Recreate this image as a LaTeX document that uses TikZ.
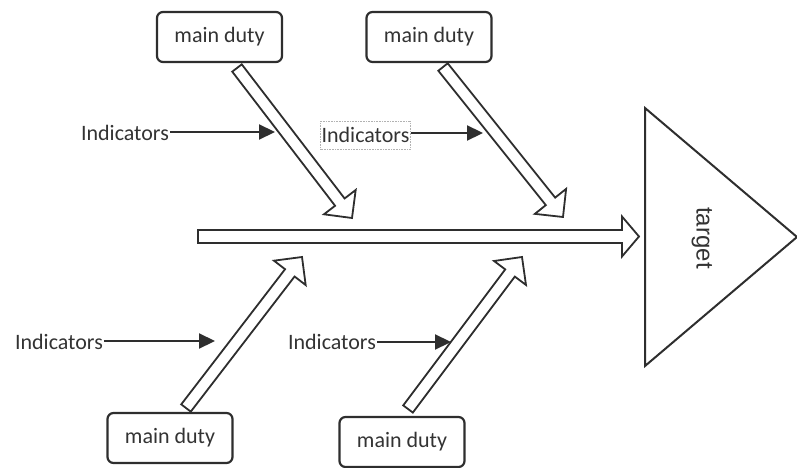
\documentclass[tikz,border=0pt]{standalone}
\usepackage{fontspec}
\setmainfont{Carlito}
\newfontfamily\labelfont{Liberation Sans}
\usetikzlibrary{calc,arrows.meta}

\definecolor{ink}{HTML}{2E2E2E}
\definecolor{txt}{HTML}{333333}

% hollow block arrow: #1 start, #2 tip, #3 half shaft width, #4 half head width, #5 head length
\newcommand\hollowarrow[5]{%
  \coordinate (ha-base) at ($(#2)!#5!(#1)$);
  \draw[hollow]
    ($(#1)!#3!90:(#2)$) -- ($(ha-base)!#3!90:(#2)$) -- ($(ha-base)!#4!90:(#2)$)
    -- (#2)
    -- ($(ha-base)!#4!-90:(#2)$) -- ($(ha-base)!#3!-90:(#2)$) -- ($(#1)!#3!-90:(#2)$)
    -- cycle;
}

\tikzset{
  hollow/.style={draw=ink, line width=1.8pt, fill=white, line join=miter},
  duty/.style={draw=ink, line width=2.2pt, rounded corners=6pt, fill=white,
    minimum width=125pt, minimum height=50pt, inner sep=0pt,
    font=\fontsize{22}{24}\selectfont, text=txt},
  indic/.style={inner xsep=1pt, inner ysep=0pt, minimum height=28pt,
    font=\fontsize{22}{24}\selectfont, text=txt},
  indframe/.style={draw=gray!60, densely dotted, line width=0.6pt},
  pointer/.style={draw=ink, line width=2.2pt, -{Triangle[length=16pt,width=15pt]}},
  goal/.style={draw=ink, line width=2pt, fill=white, line join=miter},
}

\begin{document}
\begin{tikzpicture}[x=1pt, y=-1pt]
  \useasboundingbox (0,0) rectangle (797,468);

  % target triangle
  \coordinate (tg-top) at (645,108);
  \coordinate (tg-bot) at (645,366);
  \coordinate (tg-tip) at (797,237);
  \draw[goal] (tg-top) -- (tg-tip) -- (tg-bot) -- cycle;
  \node[rotate=-90, font=\labelfont\fontsize{24}{26}\selectfont, text=txt] (target) at (702,238) {target};

  % spine
  \coordinate (sp-start) at (198,236.5);
  \coordinate (sp-tip) at (639,236.5);
  \hollowarrow{sp-start}{sp-tip}{6.5pt}{20pt}{17pt}

  % main duties
  \node[duty] (md1) at (219.5,37) {main duty};
  \node[duty] (md2) at (429,37) {main duty};
  \node[duty] (md3) at (170,438) {main duty};
  \node[duty] (md4) at (402,442) {main duty};

  % bones
  \coordinate (b1s) at (237,68);
  \coordinate (b1t) at (352,218);
  \coordinate (b2s) at (443,67);
  \coordinate (b2t) at (563,217);
  \coordinate (b3s) at (186,408);
  \coordinate (b3t) at (302,257);
  \coordinate (b4s) at (408,409);
  \coordinate (b4t) at (522,257);
  \hollowarrow{b1s}{b1t}{6pt}{20pt}{20pt}
  \hollowarrow{b2s}{b2t}{6pt}{20pt}{20pt}
  \hollowarrow{b3s}{b3t}{6pt}{20pt}{20pt}
  \hollowarrow{b4s}{b4t}{6pt}{20pt}{20pt}

  % indicators
  \node[indic] (in1) at (125,133) {Indicators};
  \node[indic, indframe] (in2) at (365.5,135) {Indicators};
  \node[indic] (in3) at (59,342) {Indicators};
  \node[indic] (in4) at (332,342) {Indicators};

  \coordinate (p1) at (275,132);
  \coordinate (p2) at (483,133);
  \coordinate (p3) at (215,341);
  \coordinate (p4) at (451,342);
  \draw[pointer] (in1.east |- p1) -- (p1);
  \draw[pointer] (in2.east |- p2) -- (p2);
  \draw[pointer] (in3.east |- p3) -- (p3);
  \draw[pointer] (in4.east |- p4) -- (p4);
\end{tikzpicture}
\end{document}
